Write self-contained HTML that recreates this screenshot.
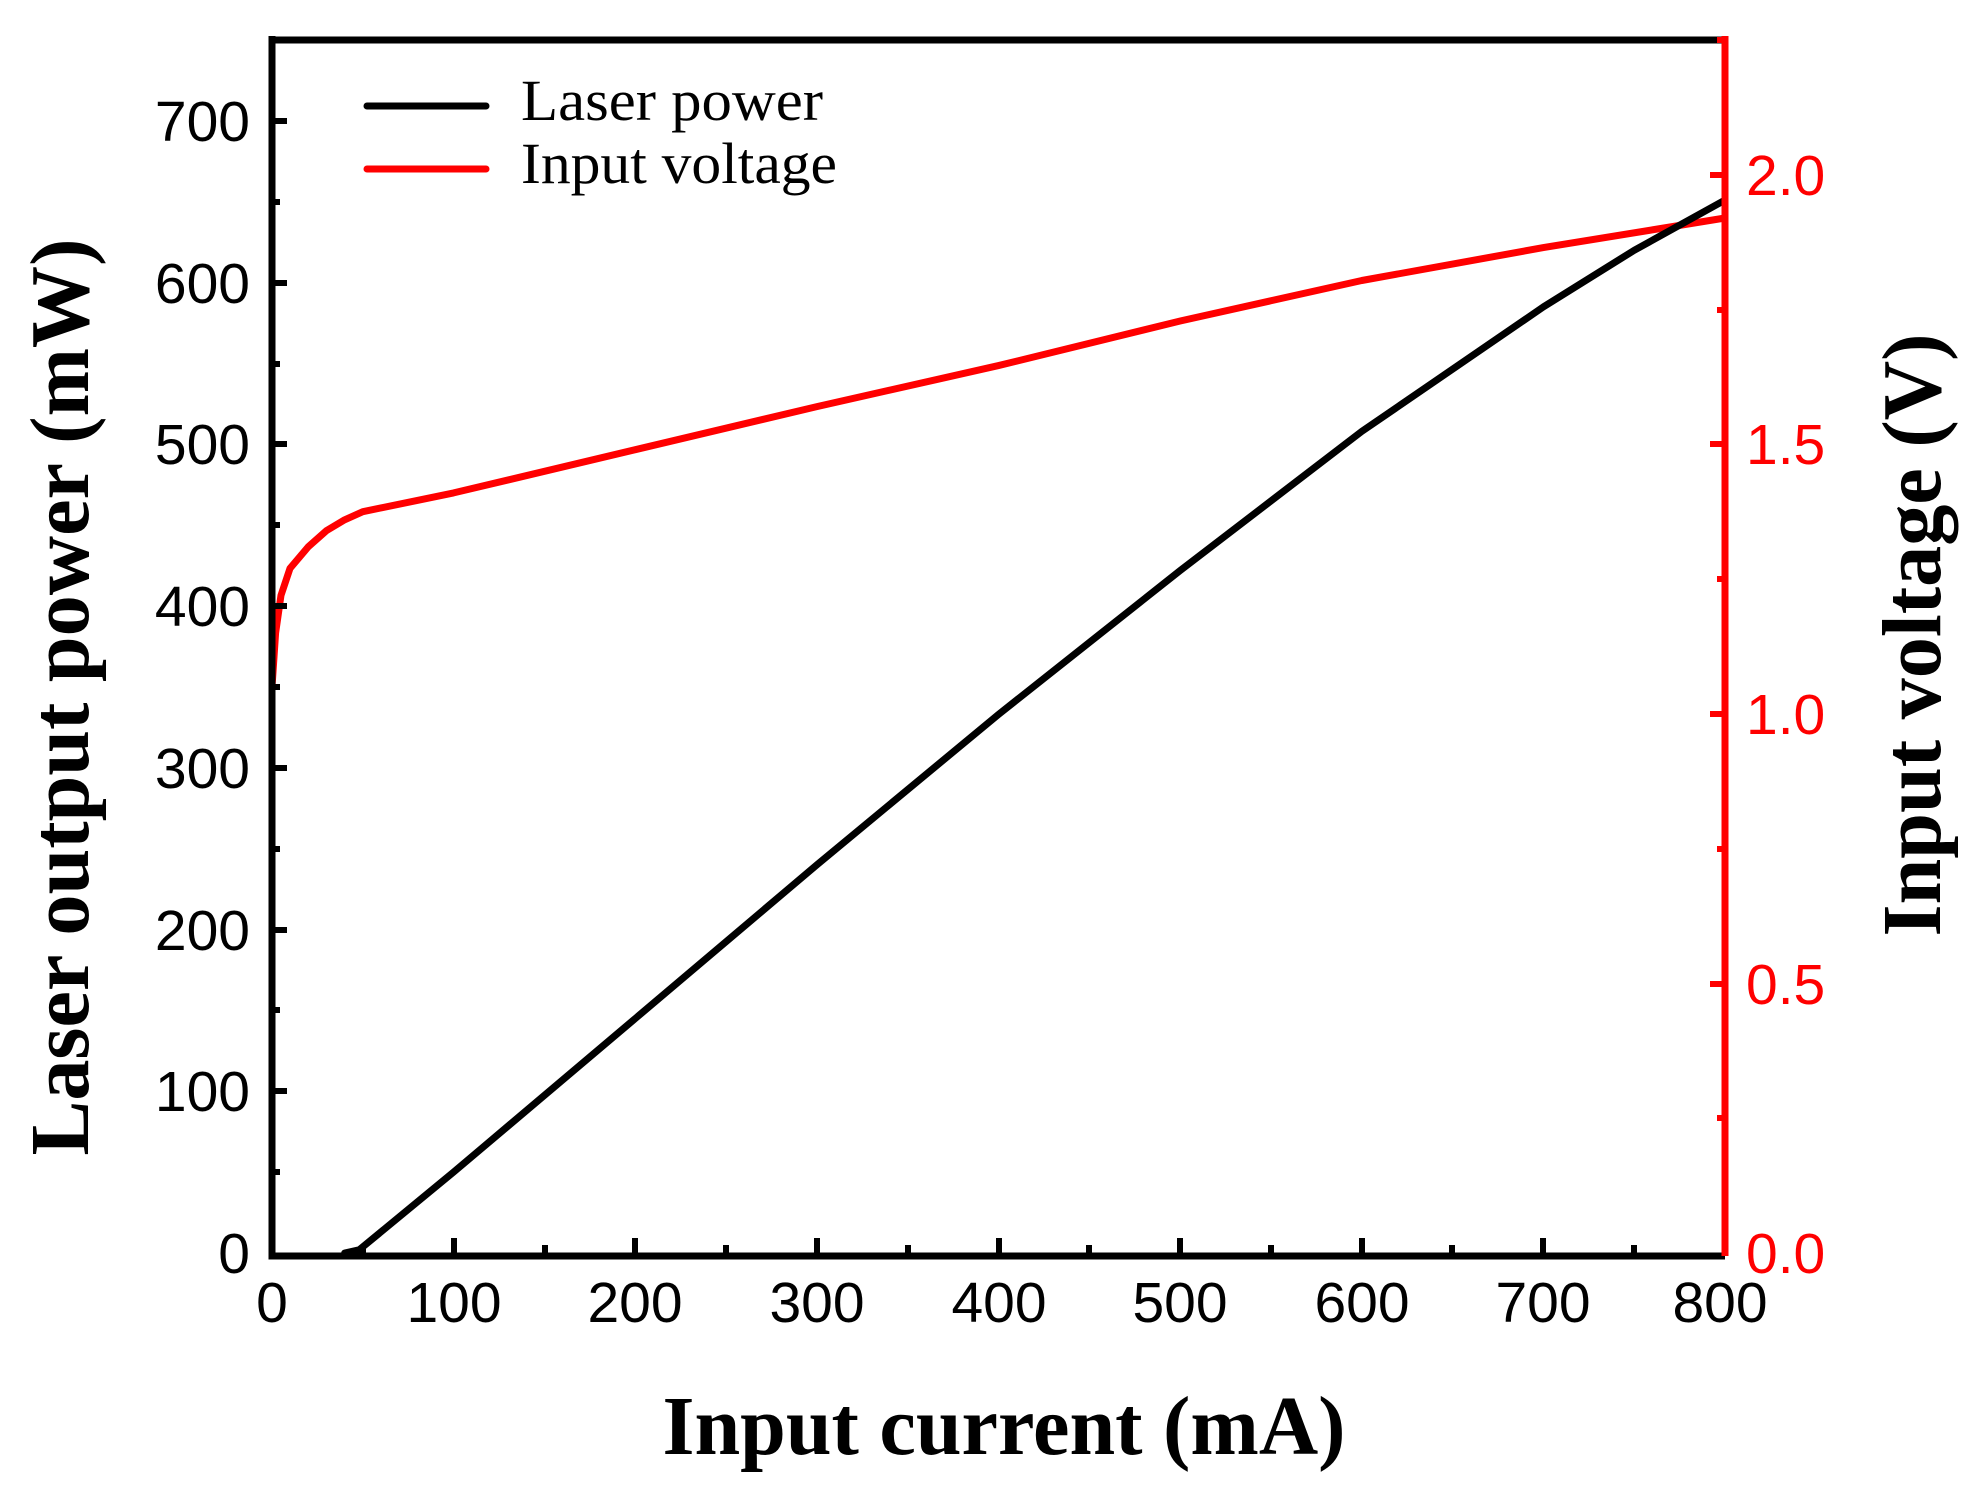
<!DOCTYPE html>
<html><head><meta charset="utf-8"><style>body{margin:0;background:#fff}svg{display:block}</style></head>
<body>
<svg width="1971" height="1495" viewBox="0 0 1971 1495" xmlns="http://www.w3.org/2000/svg">
<rect width="1971" height="1495" fill="#fff"/>
<g fill="none" stroke-linejoin="round" stroke-linecap="round">
<polyline stroke="#ff0000" stroke-width="7" points="272,1253 272,687 275.6,633 281,595.3 290,568.4 308.3,546.8 326.5,530.6 344.7,519.8 362.8,511.7 453.6,492.9 635.3,449.7 816.9,406.6 998.5,365.6 1180.2,321 1361.8,280.5 1543.4,247.6 1725,218"/>
<polyline stroke="#000" stroke-width="7" points="344.7,1253 359.2,1249.8 453.6,1172.1 635.3,1018.5 816.9,864.8 998.5,714.4 1180.2,570.5 1361.8,431.4 1543.4,306.9 1634.2,250.3 1725,200.1"/>
</g>
<g stroke="#000" stroke-width="7" fill="none">
<path d="M272,36 V1256 H1725 M268.5,40 H1725"/>
</g>
<line x1="1725" y1="36" x2="1725" y2="1256" stroke="#ff0000" stroke-width="7"/>
<g stroke="#000" stroke-width="6">
<path d="M454,1253v-15M635,1253v-15M817,1253v-15M999,1253v-15M1180,1253v-15M1362,1253v-15M1543,1253v-15
M363,1253v-8M545,1253v-8M726,1253v-8M908,1253v-8M1089,1253v-8M1271,1253v-8M1452,1253v-8M1634,1253v-8
M272,1091h15M272,930h15M272,768h15M272,606h15M272,444h15M272,283h15M272,121h15
M272,1172h8M272,1010h8M272,849h8M272,687h8M272,525h8M272,364h8M272,202h8"/>
</g>
<g stroke="#ff0000" stroke-width="6">
<path d="M1725,984h-15M1725,714h-15M1725,444h-15M1725,175h-15
M1725,1118h-8M1725,849h-8M1725,579h-8M1725,310h-8M1725,40h-8"/>
</g>
<g font-family="Liberation Sans, Arial, sans-serif" font-size="57" fill="#000" text-anchor="middle">
<text x="272" y="1322">0</text><text x="454" y="1322">100</text><text x="635" y="1322">200</text><text x="817" y="1322">300</text><text x="999" y="1322">400</text><text x="1180" y="1322">500</text><text x="1362" y="1322">600</text><text x="1543" y="1322">700</text><text x="1720" y="1322">800</text>
</g>
<g font-family="Liberation Sans, Arial, sans-serif" font-size="57" fill="#000" text-anchor="end">
<text x="250" y="1273">0</text><text x="250" y="1111">100</text><text x="250" y="950">200</text><text x="250" y="788">300</text><text x="250" y="626">400</text><text x="250" y="464">500</text><text x="250" y="303">600</text><text x="250" y="141">700</text>
</g>
<g font-family="Liberation Sans, Arial, sans-serif" font-size="57" fill="#ff0000">
<text x="1746" y="1273">0.0</text><text x="1746" y="1004">0.5</text><text x="1746" y="734">1.0</text><text x="1746" y="464">1.5</text><text x="1746" y="195">2.0</text>
</g>
<line x1="367" y1="106" x2="486" y2="106" stroke="#000" stroke-width="7" stroke-linecap="round"/>
<line x1="367" y1="169" x2="486" y2="169" stroke="#ff0000" stroke-width="7" stroke-linecap="round"/>
<g font-family="Liberation Serif, Times New Roman, serif" font-size="58" fill="#000">
<text x="521" y="120" textLength="302" lengthAdjust="spacingAndGlyphs">Laser power</text>
<text x="521" y="183" textLength="316" lengthAdjust="spacingAndGlyphs">Input voltage</text>
</g>
<g font-family="Liberation Serif, Times New Roman, serif" font-weight="bold" font-size="84" fill="#000" text-anchor="middle">
<text x="1004" y="1454" textLength="683" lengthAdjust="spacingAndGlyphs">Input current (mA)</text>
<text transform="translate(88,697) rotate(-90)" textLength="917" lengthAdjust="spacingAndGlyphs">Laser output power (mW)</text>
<text transform="translate(1940,635) rotate(-90)" textLength="603" lengthAdjust="spacingAndGlyphs">Input voltage (V)</text>
</g>
</svg>
</body></html>
